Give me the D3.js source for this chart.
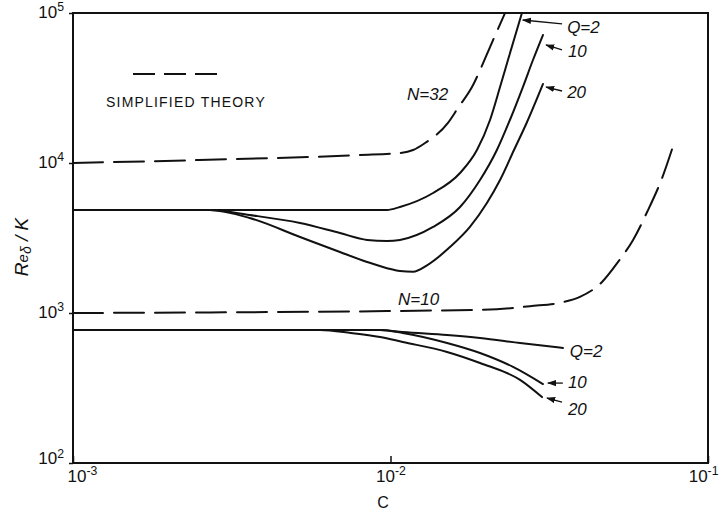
<!DOCTYPE html>
<html>
<head>
<meta charset="utf-8">
<script src="https://cdn.jsdelivr.net/npm/d3@7"></script>
<style>
  body { margin: 0; background: #fff; }
  svg text { font-family: "Liberation Sans", "DejaVu Sans", sans-serif; fill: #111; }
</style>
</head>
<body>
<div id="chart"></div>
<script>
// N = 32, simplified theory (dashed)
const cN32Dash = [0.001, 0.0025, 0.008, 0.0107, 0.01178, 0.01285, 0.01517, 0.01632, 0.0182, 0.01915, 0.02058, 0.02295];
const rN32Dash = [10000, 10470, 11300, 11660, 12200, 13600, 18500, 23300, 33100, 41700, 59300, 100000];

// N = 32, full theory
const cN32Q2 = [0.001, 0.005, 0.00975, 0.01071, 0.01362, 0.01656, 0.01872, 0.02058, 0.02213, 0.02344, 0.02594];
const rN32Q2 = [4860, 4860, 4860, 5090, 6310, 8580, 12200, 19350, 32100, 48600, 100000];
const cN32Q10 = [0.001, 0.0027, 0.0036, 0.00519, 0.00693, 0.00844, 0.00975, 0.01071, 0.01362, 0.01656, 0.01914, 0.02163, 0.02377, 0.02612, 0.0281, 0.03021];
const rN32Q10 = [4860, 4860, 4500, 3980, 3410, 3070, 3020, 3070, 3750, 5090, 7700, 12200, 19350, 32100, 48600, 71300];
const cN32Q20 = [0.001, 0.0027, 0.0036, 0.00519, 0.00693, 0.00844, 0.00975, 0.01071, 0.01178, 0.01303, 0.01539, 0.01779, 0.02012, 0.02213, 0.02449, 0.02692, 0.03021];
const rN32Q20 = [4860, 4860, 4300, 3210, 2550, 2190, 1990, 1905, 1885, 2080, 2750, 3750, 5410, 7700, 12200, 18770, 33600];

// N = 10, simplified theory (dashed)
const cN10Dash = [0.001, 0.003, 0.00975, 0.02163, 0.02748, 0.0349, 0.0395, 0.04637, 0.05209, 0.05808, 0.0643, 0.07167, 0.07762];
const rN10Dash = [1000, 1010, 1030, 1060, 1110, 1180, 1280, 1610, 2190, 3070, 4710, 7940, 12980];

// N = 10, full theory
const cN10Q2 = [0.001, 0.005, 0.0093, 0.01093, 0.01507, 0.01914, 0.02559, 0.03493];
const rN10Q2 = [770, 770, 770, 747, 713, 681, 631, 585];
const cN10Q10 = [0.001, 0.005, 0.00927, 0.01093, 0.01507, 0.01914, 0.02432, 0.03021];
const rN10Q10 = [770, 770, 770, 736, 631, 541, 437, 336];
const cN10Q20 = [0.001, 0.003, 0.006, 0.0075, 0.00927, 0.01093, 0.01507, 0.01914, 0.02559, 0.0300];
const rN10Q20 = [770, 770, 770, 736, 692, 641, 550, 464, 358, 275];

const xTicks = [1e-3, 1e-2, 1e-1];
const yTicks = [1e2, 1e3, 1e4, 1e5];

// curve labels: text, position (c, R) and optional arrow from -> to
const labels = [
  {text: "Q=2", c: 0.0360, r: 73600, arrow: [[0.0347, 84500], [0.0261, 89800]]},
  {text: "10", c: 0.0362, r: 50900, arrow: [[0.0347, 56700], [0.0309, 61200]]},
  {text: "20", c: 0.0360, r: 27100, arrow: [[0.0347, 30200], [0.0309, 32100]]},
  {text: "N=32", c: 0.01127, r: 26300},
  {text: "N=10", c: 0.01056, r: 1130},
  {text: "Q=2", c: 0.0367, r: 509},
  {text: "10", c: 0.0362, r: 316, arrow: [[0.0349, 341], [0.0313, 341]]},
  {text: "20", c: 0.0362, r: 209, arrow: [[0.0347, 255], [0.0311, 271]]}
];

const width = 719, height = 511;
const margin = {top: 13, right: 11, bottom: 48, left: 73};

const svg = d3.select("#chart").append("svg")
  .attr("width", width)
  .attr("height", height);

const x = d3.scaleLog().domain([1e-3, 1e-1]).range([margin.left, width - margin.right]);
const y = d3.scaleLog().domain([1e2, 1e5]).range([height - margin.bottom, margin.top]);

svg.append("defs").append("clipPath").attr("id", "plot")
  .append("rect")
  .attr("x", margin.left).attr("y", margin.top)
  .attr("width", width - margin.left - margin.right)
  .attr("height", height - margin.top - margin.bottom);

svg.append("defs").append("marker")
  .attr("id", "head")
  .attr("viewBox", "0 0 10 10")
  .attr("refX", 9).attr("refY", 5)
  .attr("markerWidth", 7).attr("markerHeight", 7)
  .attr("orient", "auto")
  .append("path").attr("d", "M0,1.5L10,5L0,8.5Z").attr("fill", "#111");

// axes
function superscript(sel) {
  sel.selectAll(".tick text").each(function(d) {
    const t = d3.select(this);
    t.text("10");
    t.append("tspan")
      .attr("dy", "-0.55em")
      .attr("font-size", "0.72em")
      .text(Math.round(Math.log10(d)));
  });
}

const gx = svg.append("g")
  .attr("transform", `translate(0,${height - margin.bottom})`)
  .call(d3.axisBottom(x).tickValues(xTicks).tickSize(-7).tickPadding(7).tickFormat(d => d))
  .call(superscript);
gx.select(".domain").remove();
gx.selectAll(".tick line").attr("stroke", "#111").attr("stroke-width", 1.5);
gx.selectAll(".tick text")
  .attr("font-size", 17)
  .attr("text-anchor", (d, i) => i === 2 ? "end" : "middle")
  .attr("dx", (d, i) => i === 0 ? 9 : (i === 2 ? 10 : 0));

const gy = svg.append("g")
  .attr("transform", `translate(${margin.left},0)`)
  .call(d3.axisLeft(y).tickValues(yTicks).tickSize(4).tickPadding(5).tickFormat(d => d))
  .call(superscript);
gy.select(".domain").remove();
gy.selectAll(".tick line").attr("stroke", "#111").attr("stroke-width", 1.5);
gy.selectAll(".tick text").attr("font-size", 17).attr("dy", (d, i) => i === 0 ? "0.05em" : "0.25em");

// frame
svg.append("rect")
  .attr("x", margin.left).attr("y", margin.top)
  .attr("width", width - margin.left - margin.right)
  .attr("height", height - margin.top - margin.bottom)
  .attr("fill", "none")
  .attr("stroke", "#111")
  .attr("stroke-width", 2);

// curves
const line = d3.line()
  .x(d => x(d[0]))
  .y(d => y(d[1]))
  .curve(d3.curveMonotoneX);

const series = [
  {c: cN32Dash, r: rN32Dash, dashed: true},
  {c: cN32Q2, r: rN32Q2},
  {c: cN32Q10, r: rN32Q10},
  {c: cN32Q20, r: rN32Q20},
  {c: cN10Dash, r: rN10Dash, dashed: true},
  {c: cN10Q2, r: rN10Q2},
  {c: cN10Q10, r: rN10Q10},
  {c: cN10Q20, r: rN10Q20}
];

const plot = svg.append("g").attr("clip-path", "url(#plot)");
plot.selectAll("path.curve")
  .data(series)
  .enter().append("path")
  .attr("class", "curve")
  .attr("d", s => line(s.c.map((v, i) => [v, s.r[i]])))
  .attr("fill", "none")
  .attr("stroke", "#111")
  .attr("stroke-width", 2)
  .attr("stroke-linecap", "round")
  .attr("stroke-dasharray", s => s.dashed ? "30,11" : null);

// curve labels
const lab = svg.append("g");
lab.selectAll("line")
  .data(labels.filter(d => d.arrow))
  .enter().append("line")
  .attr("x1", d => x(d.arrow[0][0])).attr("y1", d => y(d.arrow[0][1]))
  .attr("x2", d => x(d.arrow[1][0])).attr("y2", d => y(d.arrow[1][1]))
  .attr("stroke", "#111")
  .attr("stroke-width", 1.3)
  .attr("marker-end", "url(#head)");

lab.selectAll("text")
  .data(labels)
  .enter().append("text")
  .attr("x", d => x(d.c))
  .attr("y", d => y(d.r))
  .attr("font-size", 17)
  .attr("font-style", "italic")
  .text(d => d.text);

// legend
const leg = svg.append("g");
leg.append("line")
  .attr("x1", 133).attr("x2", 217)
  .attr("y1", 74).attr("y2", 74)
  .attr("stroke", "#111")
  .attr("stroke-width", 2)
  .attr("stroke-dasharray", "22,9");
leg.append("text")
  .attr("x", 106).attr("y", 107)
  .attr("font-size", 14)
  .attr("letter-spacing", 1.2)
  .text("SIMPLIFIED THEORY");

// axis titles
svg.append("text")
  .attr("x", 383).attr("y", 508)
  .attr("text-anchor", "middle")
  .attr("font-size", 16)
  .text("C");

const yl = svg.append("text")
  .attr("transform", "translate(28,247) rotate(-90)")
  .attr("text-anchor", "middle")
  .attr("font-size", 19)
  .attr("font-style", "italic");
yl.append("tspan").text("R");
yl.append("tspan").attr("font-size", 15).text("e");
yl.append("tspan").attr("font-size", 14).attr("dy", 3).text("δ");
yl.append("tspan").attr("dy", -3).text(" / K");
</script>
</body>
</html>
